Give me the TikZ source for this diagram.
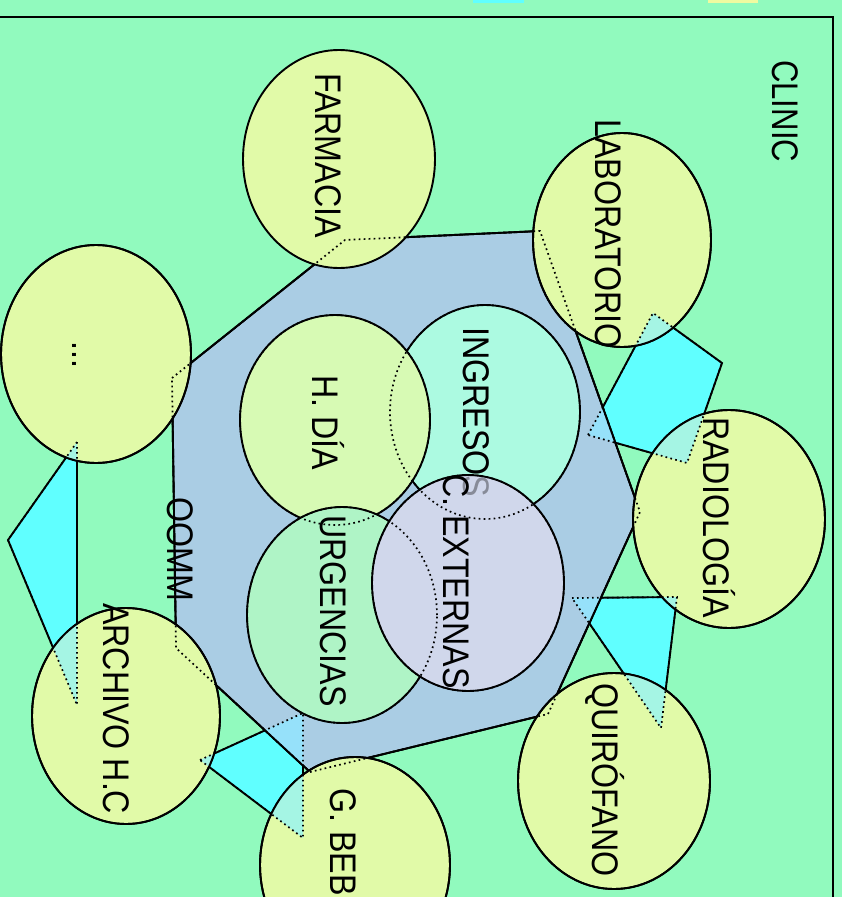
\documentclass[tikz,border=0pt]{standalone}
\usepackage{fontspec}
\setmainfont{Liberation Sans}
\usepackage{graphicx}
\definecolor{mint}{RGB}{145,250,190}
\definecolor{cyanC}{RGB}{96,255,255}
\definecolor{centr}{RGB}{170,205,228}
\definecolor{lblue}{RGB}{150,225,250}
\definecolor{yel}{RGB}{225,250,168}
\definecolor{ovc}{RGB}{165,245,228}
\definecolor{diaC}{RGB}{215,250,180}
\definecolor{ingC}{RGB}{172,250,225}
\definecolor{urgC}{RGB}{175,244,198}
\definecolor{extC}{RGB}{208,215,235}
\definecolor{yelT}{RGB}{240,250,160}
\newcommand\lbt[1]{\scalebox{0.87}[1]{#1}}
\newcommand\ovl[1]{\begin{scope}\clip #1;\fill[ovc] \pA;\fill[ovc] \pB;\fill[ovc] \pCy;\fill[ovc] \pD;\end{scope}}
\begin{document}
\begin{tikzpicture}[x=1pt,y=-1pt,
  edge/.style={draw=black, line width=1.9pt},
  hid/.style={draw=black, line width=1.7pt, dash pattern=on 1.7pt off 3.3pt},
  lab/.style={rotate=-90, anchor=base west, inner sep=0pt, font=\fontsize{37}{40}\selectfont, text=black}]
\useasboundingbox (0,0) rectangle (842,897);
\fill[mint] (0,0) rectangle (842,897);
\fill[cyanC] (473,0) rectangle (524,3);
\fill[yelT] (708,0) rectangle (758,3);
\draw[line width=2pt] (-5,17) -- (833,17) -- (833,905);
% cyan link polygons
\def\pA{(588,435) -- (653,313) -- (722,363) -- (687,463) -- cycle}
\def\pB{(572,598) -- (677,597) -- (661,728) -- cycle}
\def\pCy{(77,442) -- (8,540) -- (77,705) -- cycle}
\def\pD{(200,760) -- (303,713) -- (303,838) -- cycle}
% central polygon
\def\pCen{(172,378) -- (345,240) -- (540,231) -- (640,512) -- (548,714) -- (310,772) -- (176,648) -- cycle}
% ellipses
\def\eFarm{(339,159) ellipse [x radius=96pt, y radius=109pt]}
\def\eBlank{(96,354) ellipse [x radius=95pt, y radius=109pt]}
\def\eLab{(622,240) ellipse [x radius=89pt, y radius=107pt]}
\def\eRad{(729,519) ellipse [x radius=96pt, y radius=109pt]}
\def\eQuir{(614,781) ellipse [x radius=96pt, y radius=108pt]}
\def\eBeb{(355,865) ellipse [x radius=95pt, y radius=108pt]}
\def\eArch{(126,716) ellipse [x radius=94pt, y radius=108pt]}
\def\eDia{(335,420) ellipse [x radius=95pt, y radius=105pt]}
\def\eIng{(485,412) ellipse [x radius=95pt, y radius=107pt]}
\def\eUrg{(342,615) ellipse [x radius=95pt, y radius=108pt]}
\def\eExt{(468,583) ellipse [x radius=96pt, y radius=108pt]}
\filldraw[fill=cyanC, edge] \pA;
\filldraw[fill=cyanC, edge] \pB;
\filldraw[fill=cyanC, edge] \pCy;
\filldraw[fill=cyanC, edge] \pD;
\filldraw[fill=centr, edge] \pCen;
\begin{scope}\clip \pCen;
\fill[lblue] \pA; \fill[lblue] \pB; \fill[lblue] \pCy; \fill[lblue] \pD;
\end{scope}
\draw[edge] \pCen;
% inner ellipses
\filldraw[fill=ingC, edge] \eIng;
\node[lab] (ingA) at (463,327) {\lbt{INGRESOS}};
\filldraw[fill=diaC, edge] \eDia;
\filldraw[fill=urgC, edge] \eUrg;
\filldraw[fill=extC, edge] \eExt;
\node[lab, opacity=0.35] (ingB) at (463,327) {\lbt{INGRESOS}};
% outer ellipses
\filldraw[fill=yel, edge] \eFarm;
\filldraw[fill=yel, edge] \eBlank;
\filldraw[fill=yel, edge] \eLab;
\filldraw[fill=yel, edge] \eRad;
\filldraw[fill=yel, edge] \eQuir;
\filldraw[fill=yel, edge] \eBeb;
\filldraw[fill=yel, edge] \eArch;
\ovl{\eBlank}
\ovl{\eLab}
\ovl{\eRad}
\ovl{\eQuir}
\ovl{\eBeb}
\ovl{\eArch}
\draw[edge] \eBlank; \draw[edge] \eLab; \draw[edge] \eRad;
\draw[edge] \eQuir; \draw[edge] \eBeb; \draw[edge] \eArch;
% hidden outlines
\draw[hid] \pA; \draw[hid] \pB; \draw[hid] \pCy; \draw[hid] \pD;
\draw[hid] \pCen;
\draw[hid] \eIng; \draw[hid] \eDia; \draw[hid] \eUrg; \draw[hid] \eExt;
% labels
\node[lab] (clinic) at (772,60) {\scalebox{0.84}[1]{CLINIC}};
\node[lab] (farm) at (315,73) {\lbt{FARMACIA}};
\node[lab] (labo) at (595,119) {\lbt{LABORATORIO}};
\node[lab] (radio) at (703,417) {\lbt{RADIOLOGÍA}};
\node[lab] (quir) at (592,683) {\lbt{QUIRÓFANO}};
\node[lab] (beb) at (330,788) {\lbt{G. BEB}};
\node[lab] (arch) at (103,603) {\lbt{ARCHIVO H.C}};
\node[lab] (dia) at (312,375) {\lbt{H. DÍA}};
\node[lab] (urg) at (320,515) {\lbt{URGENCIAS}};
\node[lab] (ext) at (443,474) {\lbt{C. EXTERNAS}};
\node[lab] (oomm) at (167,497) {\lbt{OOMM}};
\node[lab] (blank) at (72,341) {\lbt{...}};
\end{tikzpicture}
\end{document}
